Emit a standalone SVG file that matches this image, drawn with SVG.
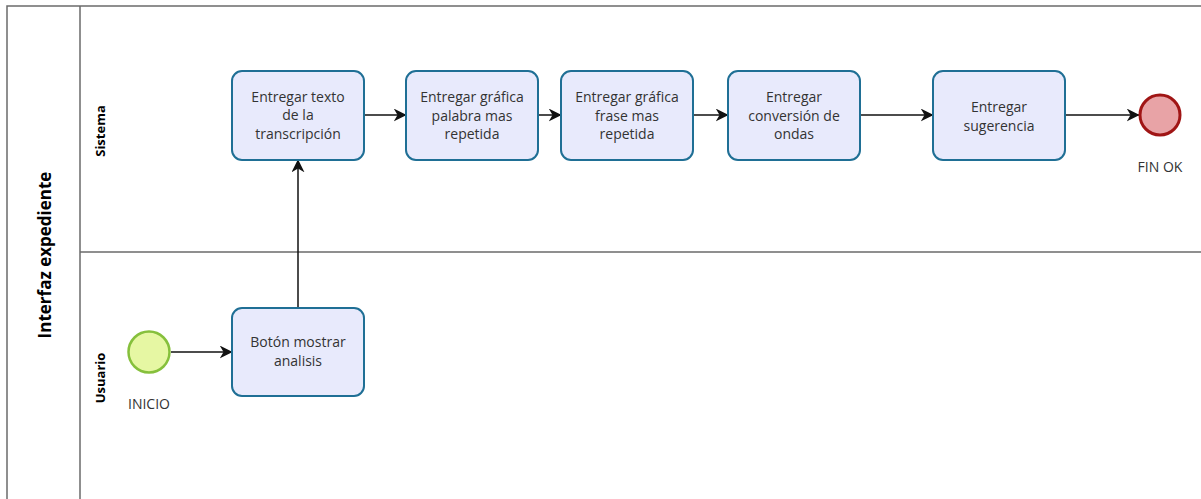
<svg xmlns="http://www.w3.org/2000/svg" width="1201" height="499" viewBox="0 0 1201 499">
<style>
.lane{stroke:#6b6b6b;stroke-width:1.5;fill:none}
.task rect{fill:#e8eafc;stroke:#1f6f95;stroke-width:2}
.task text,.lbl{font-family:"Open Sans","Noto Sans",sans-serif;font-size:14px;fill:#333;text-anchor:middle}
.lanet{font-family:"Open Sans","Noto Sans",sans-serif;font-weight:bold;fill:#000;text-anchor:middle}
.conn{stroke:#111;stroke-width:1.5;fill:none;marker-end:url(#arr)}
</style>
<defs>
<marker id="arr" viewBox="0 0 10 10" refX="9.5" refY="5" markerWidth="13" markerHeight="13" markerUnits="userSpaceOnUse" orient="auto">
<path d="M0,0 L10,5 L0,10 L3,5 z" fill="#111"/>
</marker>
</defs>
<rect width="1201" height="499" fill="#fff"/>
<g id="pool">
<path class="lane" d="M7,499 V6 H1201 M80,6 V499 M80,252 H1201"/>
<text class="lanet" font-size="17" transform="translate(51,255) rotate(-90)">Interfaz expediente</text>
<text class="lanet" font-size="13" transform="translate(105,131) rotate(-90)">Sistema</text>
<text class="lanet" font-size="13" transform="translate(105,378) rotate(-90)">Usuario</text>
</g>
<g id="connectors">
<path class="conn" d="M171,352 H232"/>
<path class="conn" d="M298,308 V160"/>
<path class="conn" d="M364,115 H406"/>
<path class="conn" d="M538,115 H561"/>
<path class="conn" d="M693,115 H728"/>
<path class="conn" d="M860,115 H933"/>
<path class="conn" d="M1065,115 H1139"/>
</g>
<g id="inicio">
<circle cx="149" cy="352" r="20.5" fill="#e6f7a3" stroke="#86c03c" stroke-width="2.5"/>
<text class="lbl" x="149" y="409">INICIO</text>
</g>
<g id="fin">
<circle cx="1160" cy="115" r="20" fill="#e8a3a6" stroke="#a01515" stroke-width="3"/>
<text class="lbl" x="1160" y="172">FIN OK</text>
</g>
<g id="t1" class="task"><rect x="232" y="71" width="132" height="89" rx="10"/>
<text x="298" y="102">Entregar texto</text><text x="298" y="120">de la</text><text x="298" y="139">transcripción</text></g>
<g id="t2" class="task"><rect x="406" y="71" width="132" height="89" rx="10"/>
<text x="472" y="102">Entregar gráfica</text><text x="472" y="121">palabra mas</text><text x="472" y="139">repetida</text></g>
<g id="t3" class="task"><rect x="561" y="71" width="132" height="89" rx="10"/>
<text x="627" y="102">Entregar gráfica</text><text x="627" y="121">frase mas</text><text x="627" y="139">repetida</text></g>
<g id="t4" class="task"><rect x="728" y="71" width="132" height="89" rx="10"/>
<text x="794" y="102">Entregar</text><text x="794" y="121">conversión de</text><text x="794" y="139">ondas</text></g>
<g id="t5" class="task"><rect x="933" y="71" width="132" height="89" rx="10"/>
<text x="999" y="112">Entregar</text><text x="999" y="131">sugerencia</text></g>
<g id="t6" class="task"><rect x="232" y="308" width="132" height="88" rx="10"/>
<text x="298" y="347">Botón mostrar</text><text x="298" y="366">analisis</text></g>
</svg>
